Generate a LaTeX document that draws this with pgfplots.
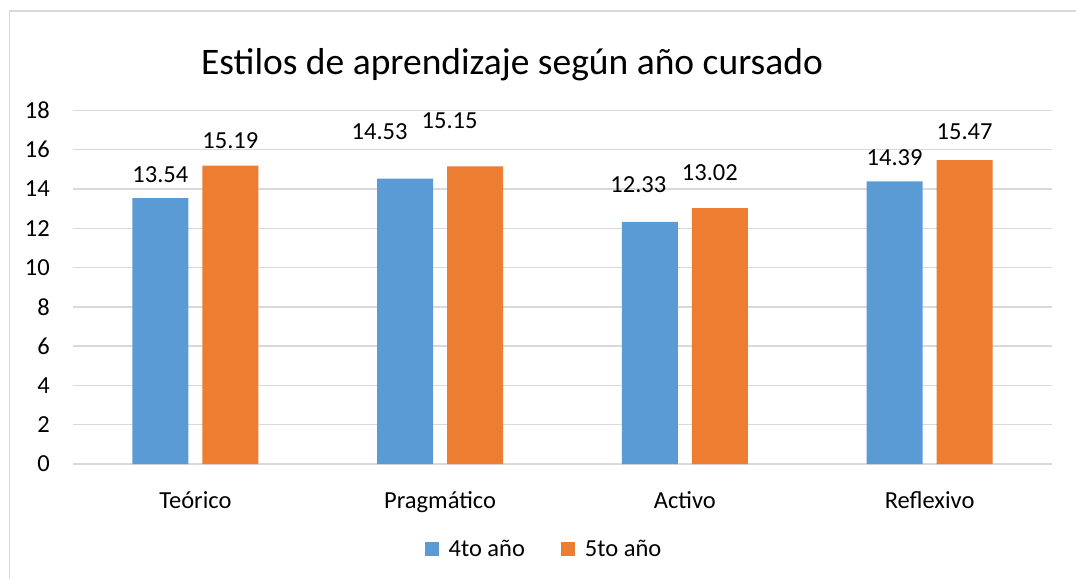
\documentclass[border=0pt]{standalone}
\usepackage{fontspec}
\setmainfont{Carlito}
\usepackage{pgfplots}
\pgfplotsset{compat=1.18}
\usepackage{pgfplotstable}
\definecolor{sblue}{HTML}{5B9BD5}
\definecolor{sorange}{HTML}{ED7D31}
\definecolor{gridgray}{HTML}{D9D9D9}
\pgfplotstableread{
x y dx dy
0 13.54 0 0
1 14.53 -25.5 23
2 12.33 -11.5 13
3 14.39 0 0
}\cuarto
\pgfplotstableread{
x y dx dy
0 15.19 0 1.5
1 15.15 -25.5 22
2 13.02 -10 12
3 15.47 0 5
}\quinto
\begin{document}
\begin{tikzpicture}
\path[use as bounding box] (0,0) rectangle (1076bp,-579bp);
\draw[gridgray, line width=1.5bp] (9.3bp,-579bp) -- (9.3bp,-11bp) -- (1076bp,-11bp);
\node[anchor=base, inner sep=0pt, font=\fontsize{37.5bp}{42bp}\selectfont] at (512bp,-74bp) {Estilos de aprendizaje según año cursado};
\begin{axis}[
  at={(73bp,-464bp)}, anchor=south west,
  scale only axis, width=979bp, height=353.6bp,
  ybar=14bp, bar width=56bp,
  xmin=-0.5, xmax=3.5, ymin=0, ymax=18,
  ytick={0,2,...,18},
  xtick=data,
  xticklabels={Teórico,Pragmático,Activo,Reflexivo},
  axis line style={draw=none},
  tick style={draw=none},
  ymajorgrids,
  major grid style={gridgray, line width=1.3bp},
  /pgf/number format/assume math mode=true,
  /pgf/number format/fixed,
  /pgf/number format/precision=2,
  /pgf/number format/fixed zerofill,
  ticklabel style={font=\fontsize{24.5bp}{29bp}\selectfont},
  yticklabel style={/pgf/number format/precision=0, /pgf/number format/fixed zerofill=false, anchor=east, inner sep=0pt, xshift=-23bp},
  xticklabel style={anchor=base, inner sep=0pt, yshift=-40bp},
  nodes near coords,
  point meta=y,
  visualization depends on={\thisrow{dx}\as\dx},
  visualization depends on={\thisrow{dy}\as\dy},
  every node near coord/.append style={anchor=base, inner sep=0pt, text=black,
     font=\fontsize{24.5bp}{29bp}\selectfont, xshift=\dx bp, yshift=\dy bp + 16bp},
  legend columns=2,
  legend image code/.code={\fill[#1] (0bp,-7bp) rectangle (14bp,7bp);},
  legend style={draw=none, fill=none, at={(0.4811,-0.2404)}, anchor=center,
     font=\fontsize{24.5bp}{29bp}\selectfont, inner sep=0pt,
     /tikz/every odd column/.append style={column sep=8bp},
     /tikz/every even column/.append style={column sep=34bp}},
  legend cell align=left,
]
\addplot[draw=none, fill=sblue] table[x=x, y=y] {\cuarto};
\addplot[draw=none, fill=sorange] table[x=x, y=y] {\quinto};
\legend{4to año, 5to año}
\end{axis}
\end{tikzpicture}
\end{document}
